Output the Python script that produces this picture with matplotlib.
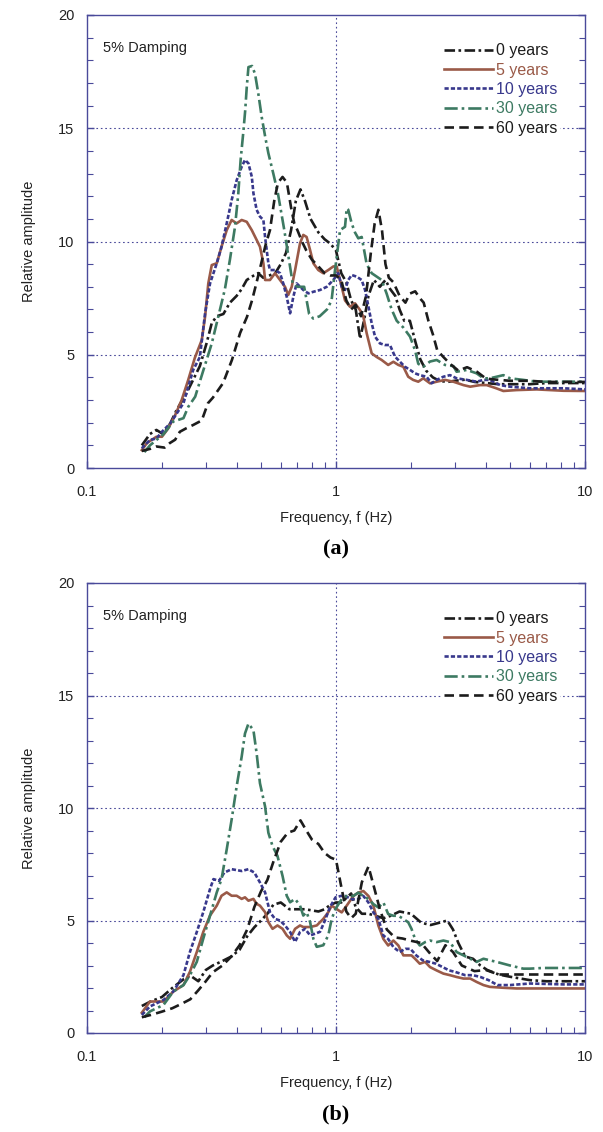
import matplotlib
matplotlib.use("Agg")
import matplotlib.pyplot as plt
from matplotlib.ticker import FixedLocator, NullFormatter

plt.rcParams['font.family'] = ['Liberation Sans', 'DejaVu Sans']

series_names = ["0 years", "5 years", "10 years", "30 years", "60 years"]

# ---------------- Panel (a) ----------------
a0_f = [0.166,0.179,0.19,0.202,0.216,0.229,0.251,0.267,0.284,0.302,0.317,0.332,0.353,0.375,0.399,0.418,0.438,0.459,0.487,0.51,0.54,0.57,0.6,0.63,0.66,0.69,0.72,0.75,0.79,0.85,0.9,0.95,1.0,1.05,1.1,1.15,1.2,1.25,1.3,1.35,1.42,1.5,1.58,1.65,1.73,1.8,1.88,1.98,2.08,2.18,2.3,2.45,2.6,2.8,3.0,3.3,3.6,4.0,4.5,5.0,6.0,7.0,8.5,10]
a0_v = [1.0,1.5,1.68,1.5,1.97,2.56,3.3,3.9,4.5,5.5,6.4,6.7,6.8,7.3,7.6,7.9,8.3,8.45,8.6,8.4,8.5,8.6,9.0,9.5,10.5,11.8,12.3,11.8,11.0,10.4,10.1,9.9,9.6,8.6,8.2,7.4,7.0,5.7,6.6,7.6,8.3,8.0,8.3,7.9,7.6,7.0,6.5,6.5,5.6,4.8,4.3,4.0,3.85,3.8,3.85,3.9,3.8,3.75,3.7,3.7,3.7,3.75,3.75,3.75]

a5_f = [0.166,0.174,0.19,0.2,0.212,0.226,0.24,0.255,0.271,0.289,0.298,0.307,0.317,0.332,0.347,0.364,0.381,0.399,0.418,0.438,0.459,0.48,0.495,0.511,0.519,0.543,0.569,0.596,0.624,0.643,0.664,0.685,0.717,0.739,0.762,0.787,0.811,0.849,0.889,0.931,0.976,1.006,1.038,1.087,1.138,1.192,1.248,1.288,1.328,1.391,1.457,1.525,1.62,1.70,1.78,1.864,1.95,2.04,2.14,2.24,2.385,2.537,2.74,2.96,3.25,3.46,3.79,4.03,4.4,4.7,5.3,6.4,8.2,10]
a5_v = [0.79,1.1,1.38,1.38,1.75,2.34,3.0,3.89,4.86,5.65,6.68,8.15,8.96,9.04,9.77,10.5,10.95,10.8,10.95,10.87,10.5,10.07,9.77,9.04,8.3,8.3,8.6,8.3,8.0,7.64,8.0,8.74,9.92,10.29,10.2,9.62,9.04,8.74,8.6,8.74,8.9,8.9,8.3,7.4,7.12,7.27,6.98,6.68,5.95,5.06,4.9,4.77,4.55,4.69,4.55,4.47,4.03,3.89,3.81,3.96,3.74,3.81,3.89,3.81,3.66,3.59,3.66,3.66,3.52,3.4,3.44,3.47,3.41,3.4]

a10_f = [0.166,0.179,0.19,0.2,0.216,0.244,0.267,0.284,0.298,0.312,0.332,0.347,0.364,0.381,0.399,0.418,0.431,0.445,0.459,0.466,0.48,0.495,0.511,0.519,0.535,0.543,0.569,0.596,0.614,0.634,0.654,0.674,0.695,0.739,0.774,0.811,0.863,0.918,0.975,1.022,1.054,1.087,1.12,1.156,1.21,1.268,1.308,1.35,1.391,1.435,1.502,1.573,1.647,1.725,1.807,1.892,1.983,2.077,2.17,2.31,2.42,2.537,2.7,2.87,3.05,3.35,3.67,3.91,4.15,4.56,5.0,6.0,8.2,10]
a10_v = [0.87,1.24,1.3,1.6,1.97,2.86,4.33,4.9,6.83,8.15,9.04,9.77,10.8,11.83,12.7,13.3,13.6,13.45,12.86,12.13,11.4,11.1,10.95,10.2,9.04,8.74,8.74,8.6,8.15,7.56,6.83,7.56,8.15,7.86,7.71,7.78,7.86,8.0,8.3,8.6,8.0,7.86,8.3,8.52,8.45,8.3,7.86,7.12,6.39,5.8,5.5,5.43,5.43,4.92,4.69,4.47,4.33,4.18,4.1,4.03,3.74,3.89,4.03,4.1,3.96,3.89,3.81,3.89,3.89,3.66,3.59,3.52,3.52,3.47]

a30_f = [0.17,0.179,0.203,0.222,0.244,0.255,0.272,0.293,0.317,0.337,0.358,0.375,0.393,0.405,0.414,0.425,0.432,0.438,0.445,0.46,0.473,0.488,0.503,0.52,0.535,0.56,0.585,0.62,0.645,0.67,0.7,0.745,0.78,0.81,0.86,0.92,0.96,0.99,1.006,1.038,1.087,1.104,1.12,1.156,1.192,1.229,1.268,1.288,1.328,1.391,1.457,1.525,1.597,1.673,1.753,1.864,1.983,2.077,2.14,2.24,2.385,2.537,2.74,2.96,3.05,3.35,3.67,3.91,4.15,4.7,5.0,5.65,6.4,7.7,10]
a30_v = [0.7,1.0,1.5,2.05,2.2,2.7,3.15,4.3,5.5,6.7,7.9,9.2,10.65,12.1,13.6,14.9,15.8,16.8,17.7,17.75,17.4,16.5,15.5,14.6,13.9,13.0,12.1,10.5,9.3,8.15,8.0,8.0,6.8,6.6,6.7,7.0,7.4,8.7,9.3,10.5,10.65,11.46,11.4,10.8,10.4,10.14,10.2,9.8,9.0,8.6,8.45,8.3,7.7,7.0,6.5,6.2,5.8,5.2,4.6,4.47,4.7,4.77,4.55,4.5,4.25,4.33,4.18,3.96,3.96,4.1,3.96,3.89,3.81,3.81,3.81]

a60_f = [0.166,0.18,0.19,0.205,0.215,0.226,0.236,0.25,0.267,0.289,0.306,0.32,0.352,0.382,0.412,0.439,0.46,0.48,0.5,0.52,0.543,0.565,0.585,0.61,0.635,0.66,0.68,0.7,0.73,0.76,0.8,0.85,0.9,0.95,1.0,1.05,1.1,1.15,1.2,1.26,1.32,1.38,1.43,1.48,1.53,1.58,1.63,1.7,1.8,1.9,1.98,2.08,2.17,2.25,2.35,2.45,2.55,2.7,2.87,3.1,3.36,3.68,4.0,4.4,5.0,6.0,7.0,8.5,10]
a60_v = [0.75,0.85,0.95,0.9,1.1,1.25,1.6,1.75,1.9,2.1,2.86,3.1,3.75,4.77,5.96,6.67,7.4,8.2,9.0,9.8,10.5,11.8,12.6,12.85,12.6,11.5,10.8,10.5,10.0,9.6,9.2,8.9,8.6,8.5,8.5,8.3,7.4,7.0,7.2,6.7,7.6,9.5,10.8,11.4,10.5,9.0,8.4,8.2,7.6,7.3,7.7,7.8,7.5,7.3,6.5,5.9,5.2,4.9,4.6,4.3,4.45,4.25,3.95,3.9,3.85,3.85,3.8,3.8,3.8]

# ---------------- Panel (b) ----------------
b0_f = [0.166,0.18,0.2,0.22,0.245,0.26,0.28,0.3,0.32,0.35,0.38,0.41,0.44,0.47,0.5,0.53,0.56,0.6,0.65,0.7,0.75,0.8,0.85,0.9,0.95,1.0,1.05,1.1,1.15,1.2,1.27,1.35,1.45,1.55,1.65,1.8,2.0,2.2,2.4,2.6,2.8,2.95,3.1,3.3,3.55,3.8,4.05,4.5,5.0,6.0,7.0,8.5,10]
b0_v = [1.2,1.4,1.6,2.0,2.4,2.55,2.3,2.8,3.0,3.2,3.4,3.7,4.3,4.7,5.0,5.3,5.7,5.8,5.5,5.5,5.5,5.45,5.4,5.5,5.7,5.8,5.8,6.0,6.2,5.6,5.3,5.3,5.2,5.1,5.2,5.4,5.3,4.9,4.8,4.9,5.0,4.6,4.0,3.4,3.3,3.0,2.8,2.6,2.5,2.35,2.3,2.3,2.3]

b5_f = [0.166,0.179,0.203,0.222,0.244,0.259,0.276,0.293,0.312,0.332,0.347,0.364,0.381,0.399,0.418,0.431,0.445,0.466,0.48,0.495,0.519,0.535,0.556,0.582,0.61,0.634,0.654,0.685,0.717,0.739,0.762,0.787,0.837,0.889,0.931,0.961,1.006,1.054,1.104,1.174,1.229,1.288,1.35,1.413,1.48,1.55,1.62,1.70,1.78,1.864,1.95,2.01,2.077,2.17,2.28,2.385,2.537,2.7,2.87,3.05,3.25,3.46,3.67,3.91,4.15,4.7,5.3,6.8,10]
b5_v = [0.9,1.4,1.4,1.84,2.13,2.72,3.6,4.49,5.22,5.66,6.1,6.25,6.1,6.1,5.96,6.03,5.88,5.96,5.74,5.66,5.37,4.93,4.63,4.78,4.63,4.34,4.19,4.63,4.78,4.71,4.71,4.71,4.78,5.07,5.37,5.66,5.51,5.36,5.66,6.09,6.24,6.31,6.09,5.66,4.77,4.18,3.89,4.11,3.89,3.45,3.45,3.45,3.3,3.08,3.16,2.93,2.78,2.64,2.57,2.49,2.42,2.42,2.27,2.13,2.05,2.01,1.98,1.98,1.98]

b10_f = [0.166,0.179,0.203,0.222,0.244,0.259,0.276,0.293,0.312,0.322,0.339,0.356,0.381,0.418,0.445,0.47,0.495,0.519,0.543,0.569,0.596,0.624,0.654,0.685,0.717,0.751,0.787,0.824,0.863,0.903,0.946,0.996,1.045,1.087,1.156,1.229,1.288,1.35,1.413,1.48,1.55,1.62,1.70,1.80,1.90,1.99,2.10,2.23,2.37,2.52,2.68,2.85,3.02,3.3,3.55,3.8,4.1,4.45,5.0,6.0,8.2,10]
b10_v = [0.8,1.18,1.47,1.84,2.57,3.6,4.49,5.37,6.4,6.84,6.76,7.13,7.28,7.2,7.28,7.13,6.69,6.25,5.37,5.07,5.0,4.78,4.49,4.05,4.49,4.63,4.34,4.41,4.5,5.0,5.6,6.03,6.09,6.09,5.95,5.95,6.09,5.8,5.36,5.07,4.33,4.18,3.82,3.6,3.74,3.74,3.45,3.23,3.16,3.08,2.93,2.78,2.71,2.57,2.57,2.49,2.35,2.13,2.13,2.2,2.16,2.16]

b30_f = [0.17,0.179,0.203,0.222,0.244,0.259,0.276,0.293,0.312,0.332,0.347,0.364,0.381,0.399,0.418,0.431,0.445,0.466,0.48,0.495,0.519,0.535,0.556,0.582,0.61,0.634,0.654,0.685,0.717,0.739,0.762,0.787,0.811,0.837,0.889,0.931,0.961,0.996,1.054,1.104,1.174,1.229,1.288,1.35,1.413,1.48,1.55,1.62,1.70,1.78,1.864,1.95,2.01,2.077,2.17,2.28,2.385,2.537,2.7,2.87,3.05,3.25,3.46,3.67,3.91,4.15,4.42,4.7,5.0,5.32,5.65,6.0,6.8,8.2,10]
b30_v = [0.7,0.96,1.25,1.84,2.13,2.57,3.16,4.19,5.22,6.25,6.84,8.16,9.49,10.96,12.28,13.31,13.75,13.46,12.43,11.1,10.07,8.9,8.31,7.87,6.98,6.1,5.81,5.96,5.66,5.22,5.37,4.93,4.19,3.83,3.9,4.34,5.07,5.52,5.95,6.09,6.09,6.24,6.09,5.95,5.73,5.58,5.8,5.29,5.21,5.21,5.07,4.92,4.63,4.18,3.89,4.04,4.11,4.04,4.11,4.04,3.6,3.45,3.3,3.16,3.3,3.23,3.16,3.08,3.0,2.93,2.86,2.86,2.89,2.89,2.89]

b60_f = [0.166,0.18,0.2,0.22,0.24,0.26,0.28,0.3,0.32,0.35,0.38,0.41,0.44,0.47,0.5,0.53,0.56,0.6,0.64,0.68,0.72,0.76,0.8,0.85,0.9,0.95,1.0,1.05,1.1,1.15,1.2,1.27,1.35,1.42,1.5,1.6,1.72,1.85,2.0,2.2,2.4,2.55,2.75,2.95,3.2,3.6,4.0,4.5,5.5,7.0,10]
b60_v = [0.7,0.8,0.95,1.1,1.3,1.5,1.9,2.3,2.7,3.0,3.4,3.9,4.6,5.6,6.3,6.8,7.6,8.5,8.9,9.0,9.45,9.0,8.6,8.4,8.0,7.8,7.7,6.5,5.4,5.1,5.3,6.7,7.4,6.5,5.5,4.6,4.25,4.2,4.1,4.0,3.5,3.2,3.9,3.6,3.0,2.75,2.8,2.6,2.6,2.6,2.6]

panels = [
    ("(a)", [(a0_f, a0_v), (a5_f, a5_v), (a10_f, a10_v), (a30_f, a30_v), (a60_f, a60_v)]),
    ("(b)", [(b0_f, b0_v), (b5_f, b5_v), (b10_f, b10_v), (b30_f, b30_v), (b60_f, b60_v)]),
]

colors = ["#1c1c1c", "#9a5a48", "#38388c", "#3d7a62", "#1c1c1c"]
styles = [(0, (4, 1.3, 1, 1.3)), "-", (0, (1.6, 0.8)), (0, (5, 1.5, 1, 1.5)), (0, (3.6, 2.0))]
spine_col = "#4a4a9a"
text_col = "#222222"

fig = plt.figure(figsize=(6.03, 11.32), dpi=100)
W, H = 603, 1132
boxes = [(87, 15, 585, 468), (87, 583, 585, 1033)]

for (label, data), (x0, y0, x1, y1) in zip(panels, boxes):
    wpx, hpx = x1 - x0, y1 - y0
    ax = fig.add_axes([x0 / W, 1 - y1 / H, wpx / W, hpx / H])
    ax.set_xscale("log")
    ax.set_xlim(0.1, 10)
    ax.set_ylim(0, 20)
    for (f, v), c, ls, name in zip(data, colors, styles, series_names):
        ax.plot(f, v, color=c, linestyle=ls, lw=1.9, label=name)
    for yy in [5, 10, 15]:
        ax.axhline(yy, color=spine_col, lw=0.8, ls=(0, (1.5, 2.5)), zorder=0)
    ax.axvline(1, color=spine_col, lw=0.8, ls=(0, (1.5, 2.5)), zorder=0)
    for s in ax.spines.values():
        s.set_color(spine_col)
        s.set_linewidth(1.0)
    ax.xaxis.set_major_locator(FixedLocator([0.1, 1, 10]))
    ax.xaxis.set_minor_locator(FixedLocator([k * d for d in (0.1, 1) for k in range(2, 10)]))
    ax.xaxis.set_minor_formatter(NullFormatter())
    ax.set_xticklabels(["0.1", "1", "10"])
    ax.yaxis.set_major_locator(FixedLocator([0, 5, 10, 15, 20]))
    ax.yaxis.set_minor_locator(FixedLocator(list(range(0, 21))))
    ax.tick_params(which="both", direction="in", colors=spine_col, labelcolor=text_col,
                   labelsize=10.5, right=True, top=False)
    ax.tick_params(which="major", length=5, width=1)
    ax.tick_params(which="minor", length=4, width=0.8)
    ax.tick_params(axis="x", which="both", pad=12)
    ax.tick_params(axis="y", which="both", pad=9)
    ax.set_xlabel("Frequency, f (Hz)", fontsize=10.5, color=text_col)
    ax.xaxis.set_label_coords(0.5, -43 / hpx)
    ax.set_ylabel("Relative amplitude", fontsize=10.5, color=text_col)
    ax.yaxis.set_label_coords(-51 / wpx, 0.5)
    ax.text(16 / wpx, 1 - 33 / hpx, "5% Damping", transform=ax.transAxes, fontsize=10.5,
            ha="left", va="center", color=text_col)
    leg = ax.legend(loc="upper right", bbox_to_anchor=(1 - 25 / wpx, 1 - 26 / hpx),
                    frameon=True, fontsize=11.5, handlelength=3.1, handletextpad=0.2,
                    labelspacing=0.27, borderpad=0.15, borderaxespad=0)
    leg.get_frame().set_edgecolor("none")
    leg.get_frame().set_facecolor("white")
    leg.get_frame().set_alpha(1)
    for t, c in zip(leg.get_texts(), colors):
        t.set_color(c)
    ax.text(0.5, -(81 / hpx), label, transform=ax.transAxes, ha="center", va="center",
            fontsize=16, fontweight="bold", family="Liberation Serif")

fig.savefig("out.png", dpi=100)
